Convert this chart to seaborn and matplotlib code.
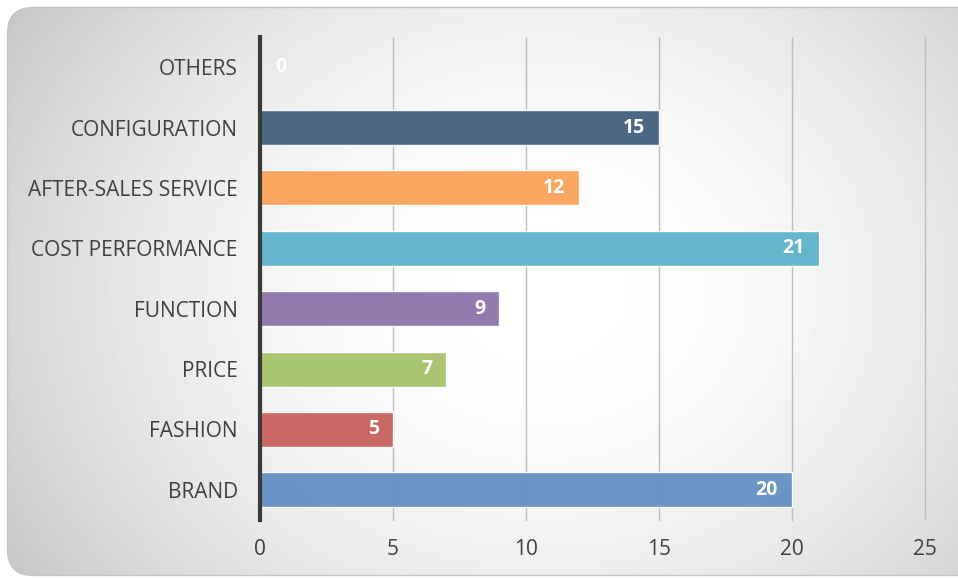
import numpy as np
import pandas as pd
import matplotlib
matplotlib.use("Agg")
import matplotlib.pyplot as plt
from matplotlib.patches import FancyBboxPatch
import seaborn as sns

categories = ["OTHERS", "CONFIGURATION", "AFTER-SALES SERVICE", "COST PERFORMANCE",
              "FUNCTION", "PRICE", "FASHION", "BRAND"]
values = [0, 15, 12, 21, 9, 7, 5, 20]
colors = ["#4a6688", "#45627f", "#f9a45b", "#5eb4cb", "#8e75ab", "#a6c36b", "#c8625f", "#6591c4"]
x_ticks = [0, 5, 10, 15, 20, 25]

sns.set_theme(style="white")
plt.rcParams["font.family"] = ["Open Sans", "DejaVu Sans"]

W, H = 958, 579
fig = plt.figure(figsize=(W / 100, H / 100), dpi=100)
fig.patch.set_facecolor("white")

# Rounded panel with a radial grey-to-white fill
bg = fig.add_axes([0, 0, 1, 1], zorder=-5)
bg.set_xlim(0, W)
bg.set_ylim(H, 0)
bg.axis("off")
yy, xx = np.mgrid[0:H, 0:W]
cx, cy = 540, 290
r2 = ((xx - cx) / 580) ** 2 + ((yy - cy) / 480) ** 2
shade = np.clip(1.0 - 0.19 * r2, 0.74, 1.0)
img = bg.imshow(shade, cmap="gray", vmin=0, vmax=1, extent=(0, W, H, 0),
                interpolation="bilinear", zorder=0)
panel = FancyBboxPatch((7.5, 7.5), W + 20, 568, boxstyle="round,pad=0,rounding_size=26",
                       facecolor="none", edgecolor="#c4c4c4", linewidth=1.0, zorder=1)
bg.add_patch(panel)
img.set_clip_path(panel)

ax = fig.add_axes([260 / W, 1 - 520 / H, (925 - 260) / W, (520 - 37) / H])
ax.set_facecolor("none")

df = pd.DataFrame({"category": categories, "value": values})
sns.barplot(data=df, x="value", y="category", hue="category", palette=colors,
            order=categories, hue_order=categories, legend=False, width=0.58,
            saturation=1, alpha=0.96, edgecolor="#ffffff", linewidth=1.0, ax=ax, zorder=3)

ax.set_xlim(0, 25)
ax.set_ylim(7.5, -0.5)
ax.set_xticks(x_ticks)
ax.set_xticklabels([str(t) for t in x_ticks])
ax.grid(axis="x", color="#bdbdbd", linewidth=1.0, zorder=0)
for gl in ax.get_xgridlines():
    gl.set_clip_on(False)
ax.set_axisbelow(True)
for side in ("top", "right", "bottom"):
    ax.spines[side].set_visible(False)
ax.spines["left"].set_color("#3a3a3a")
ax.spines["left"].set_linewidth(3)
ax.spines["left"].set_zorder(5)
ax.tick_params(axis="both", length=0, labelsize=15, colors="#404040")
ax.tick_params(axis="x", pad=14)
ax.tick_params(axis="y", pad=16)
ax.set_xlabel("")
ax.set_ylabel("")

for i, v in enumerate(values):
    if v > 0:
        ax.annotate(str(v), xy=(v, i), xytext=(-10, 0), textcoords="offset points",
                    ha="right", va="center", color="white", fontsize=14,
                    fontweight="bold", zorder=6)
    else:
        ax.annotate(str(v), xy=(v, i), xytext=(11, 0), textcoords="offset points",
                    ha="left", va="center", color="white", fontsize=14,
                    fontweight="bold", zorder=6)

fig.savefig("out.png", dpi=100)
